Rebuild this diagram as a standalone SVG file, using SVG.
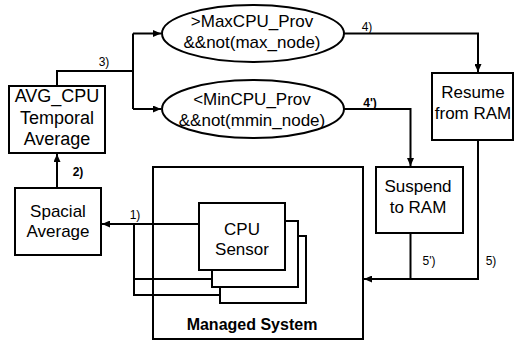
<svg xmlns="http://www.w3.org/2000/svg" width="514" height="344" viewBox="0 0 514 344">
<style>
.box{fill:#fff;stroke:#000;stroke-width:2}
.t{font-family:"Liberation Sans",Arial,sans-serif;font-size:17px;text-anchor:middle;fill:#000}
.l{font-family:"Liberation Sans",Arial,sans-serif;font-size:12px;text-anchor:middle;fill:#000}
.b{font-weight:bold}
.c{fill:none;stroke:#000;stroke-width:2}
</style>
<defs>
<marker id="ah" markerUnits="userSpaceOnUse" markerWidth="8" markerHeight="7" refX="8" refY="3.5" orient="auto">
<path d="M0,0 L8,3.5 L0,7 z" fill="#000"/>
</marker>
</defs>
<rect width="514" height="344" fill="#fff"/>
<g id="managed-system">
<rect class="box" x="153" y="167" width="210" height="172"/>
<text class="t b" x="252" y="330" style="font-size:16px">Managed System</text>
</g>
<g id="connectors">
<polyline class="c" points="57,86 57,71 133,71"/>
<line class="c" x1="133" y1="33.5" x2="133" y2="109"/>
<line class="c" x1="133" y1="33.5" x2="161" y2="33.5" marker-end="url(#ah)"/>
<line class="c" x1="133" y1="109" x2="161" y2="109" marker-end="url(#ah)"/>
<polyline class="c" points="344,33.5 478,33.5 478,72" marker-end="url(#ah)"/>
<polyline class="c" points="344,109 410.5,109 410.5,166" marker-end="url(#ah)"/>
<polyline class="c" points="478,140 478,279 364,279" marker-end="url(#ah)"/>
<line class="c" x1="410.5" y1="233" x2="410.5" y2="279"/>
<line class="c" x1="199" y1="224" x2="102" y2="224" marker-end="url(#ah)"/>
<polyline class="c" points="134,224 134,295 220,295"/>
<line class="c" x1="134" y1="279" x2="212" y2="279"/>
<line class="c" x1="57" y1="188" x2="57" y2="154" marker-end="url(#ah)"/>
<text class="l" x="104" y="66">3)</text>
<text class="l" x="367" y="31">4)</text>
<text class="l b" x="370" y="107">4')</text>
<text class="l" x="429" y="265">5')</text>
<text class="l" x="491" y="265">5)</text>
<text class="l" x="135" y="219">1)</text>
<text class="l b" x="78" y="176">2)</text>
</g>
<g id="avg-cpu">
<rect class="box" x="9" y="86" width="96" height="67"/>
<text class="t" x="57" y="102" style="font-size:18px">AVG_CPU</text>
<text class="t" x="57" y="123.5" style="font-size:18px">Temporal</text>
<text class="t" x="57" y="145" style="font-size:18px">Average</text>
</g>
<g id="max-cond">
<ellipse class="box" cx="253" cy="33.5" rx="91" ry="28.5"/>
<text class="t" x="252" y="27">&gt;MaxCPU_Prov</text>
<text class="t" x="252" y="47.5">&amp;&amp;not(max_node)</text>
</g>
<g id="min-cond">
<ellipse class="box" cx="253" cy="109" rx="91" ry="29"/>
<text class="t" x="252" y="105">&lt;MinCPU_Prov</text>
<text class="t" x="252" y="126">&amp;&amp;not(mmin_node)</text>
</g>
<g id="resume">
<rect class="box" x="432" y="73" width="81" height="67"/>
<text class="t" x="473" y="98">Resume</text>
<text class="t" x="473" y="119">from RAM</text>
</g>
<g id="suspend">
<rect class="box" x="376" y="167" width="87" height="66"/>
<text class="t" x="418" y="192">Suspend</text>
<text class="t" x="418" y="213">to RAM</text>
</g>
<g id="spacial">
<rect class="box" x="15" y="188" width="86" height="67"/>
<text class="t" x="58" y="217">Spacial</text>
<text class="t" x="58" y="237">Average</text>
</g>
<g id="cpu-sensor">
<rect class="box" x="220" y="236" width="86" height="67"/>
<rect class="box" x="212" y="221" width="86" height="66"/>
<rect class="box" x="199" y="203" width="86" height="67"/>
<text class="t" x="242" y="235">CPU</text>
<text class="t" x="242" y="255">Sensor</text>
</g>
</svg>
